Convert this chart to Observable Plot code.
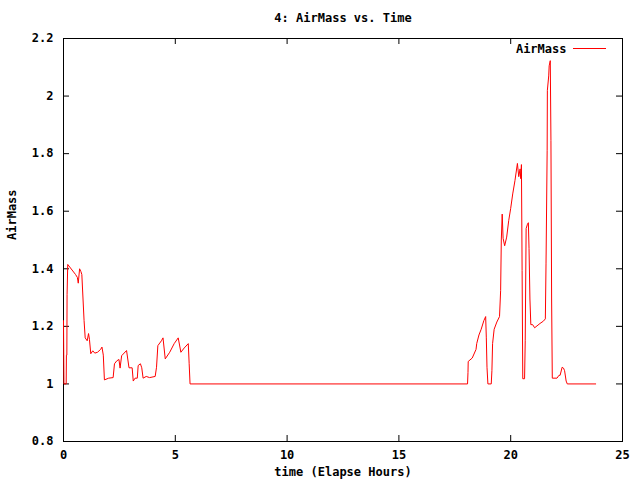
<!DOCTYPE html>
<html><head><meta charset="utf-8">
<script src="https://cdn.jsdelivr.net/npm/d3@7"></script>
<script src="https://cdn.jsdelivr.net/npm/@observablehq/plot@0.6"></script>
<style>body{margin:0;background:#fff}</style>
</head><body><div id="chart"></div>
<script>
const title = "4: AirMass vs. Time";
const xLabel = "time (Elapse Hours)";
const yLabel = "AirMass";
const seriesName = "AirMass";
const xTicks = [0, 5, 10, 15, 20, 25];
const yTicks = [0.8, 1, 1.2, 1.4, 1.6, 1.8, 2, 2.2];
const time = [
  0.00, 0.02, 0.12, 0.13, 0.15, 0.16, 0.19, 0.54, 0.62, 0.66, 0.72, 0.78, 0.82, 0.92, 0.97,
  1.06, 1.12, 1.16, 1.22, 1.31, 1.40, 1.52, 1.66, 1.72, 1.78, 1.83, 2.02, 2.22, 2.28, 2.38,
  2.48, 2.53, 2.60, 2.82, 2.93, 3.07, 3.12, 3.20, 3.30, 3.34, 3.44, 3.50, 3.56, 3.70, 3.85,
  4.10, 4.16, 4.22, 4.38, 4.45, 4.55, 4.75, 4.95, 5.13, 5.25, 5.40, 5.58, 5.62, 5.66,
  18.07, 18.09, 18.10, 18.28, 18.45, 18.48, 18.58, 18.68, 18.80, 18.88, 18.91, 18.94, 18.98,
  19.13, 19.16, 19.19, 19.26, 19.38, 19.50, 19.55, 19.58, 19.62, 19.66, 19.73, 19.82, 19.91,
  20.00, 20.09, 20.19, 20.30, 20.36, 20.42, 20.45, 20.48, 20.51, 20.54, 20.62, 20.65, 20.69,
  20.75, 20.79, 20.82, 20.86, 20.90, 20.98, 21.07, 21.31, 21.46, 21.55, 21.58, 21.63, 21.64,
  21.70, 21.72, 21.77, 21.80, 21.83, 21.86, 22.07, 22.16, 22.21, 22.30, 22.36, 22.41, 22.48,
  22.53, 23.80
];
const airmass = [
  1.22, 1.00, 1.00, 1.10, 1.10, 1.31, 1.415, 1.38, 1.37, 1.35, 1.40, 1.39, 1.38, 1.22, 1.16,
  1.15, 1.175, 1.155, 1.105, 1.115, 1.107, 1.11, 1.12, 1.128, 1.10, 1.014, 1.02, 1.022, 1.07, 1.08,
  1.085, 1.055, 1.098, 1.116, 1.056, 1.056, 1.01, 1.02, 1.02, 1.064, 1.07, 1.056, 1.02, 1.026, 1.022,
  1.026, 1.058, 1.133, 1.15, 1.16, 1.087, 1.11, 1.14, 1.16, 1.11, 1.125, 1.14, 1.07, 1.00,
  1.00, 1.04, 1.078, 1.09, 1.12, 1.14, 1.17, 1.19, 1.22, 1.234, 1.16, 1.058, 1.00,
  1.00, 1.046, 1.14, 1.19, 1.215, 1.234, 1.324, 1.50, 1.59, 1.506, 1.48, 1.51, 1.567,
  1.61, 1.66, 1.706, 1.766, 1.72, 1.747, 1.713, 1.762, 1.394, 1.018, 1.018, 1.15, 1.54,
  1.555, 1.56, 1.47, 1.295, 1.206, 1.206, 1.195, 1.21, 1.218, 1.226, 1.417, 1.81, 2.02,
  2.07, 2.105, 2.123, 1.845, 1.295, 1.02, 1.02, 1.03, 1.03, 1.058, 1.055, 1.046, 1.01,
  1.00, 1.00
];
const data = time.map((t, i) => ({t, v: airmass[i]}));

const W = 640, H = 480, mL = 63, mR = 18, mT = 38, mB = 39;
const pw = W - mL - mR, ph = H - mT - mB;
const tick = 6;

const legendLine = (index, scales, values, dims) => {
  const g = d3.create("svg:g");
  const y = dims.marginTop + 10.5;
  g.append("line")
    .attr("x1", dims.width - dims.marginRight - 49)
    .attr("x2", dims.width - dims.marginRight - 16)
    .attr("y1", y).attr("y2", y)
    .attr("stroke", "#ff0000").attr("stroke-width", 1);
  return g.node();
};

const chart = Plot.plot({
  width: W, height: H,
  marginLeft: mL, marginRight: mR, marginTop: mT, marginBottom: mB,
  style: {fontFamily: "'DejaVu Sans Mono', monospace", fontSize: "12px", fontWeight: "bold", background: "white", color: "black"},
  x: {domain: [0, 25], ticks: xTicks, tickSize: 0, tickPadding: 9, label: null, tickFormat: d => String(d)},
  y: {domain: [0.8, 2.2], ticks: yTicks, tickSize: 0, tickPadding: 10, label: null, tickFormat: d => String(d)},
  marks: [
    Plot.frame({stroke: "black"}),
    Plot.tickY(yTicks, {y: d => d, insetRight: pw - tick, stroke: "black"}),
    Plot.tickY(yTicks, {y: d => d, insetLeft: pw - tick, stroke: "black"}),
    Plot.tickX(xTicks, {x: d => d, insetTop: ph - tick, stroke: "black"}),
    Plot.tickX(xTicks, {x: d => d, insetBottom: ph - tick, stroke: "black"}),
    Plot.line(data, {x: "t", y: "v", stroke: "#ff0000", strokeWidth: 1}),
    Plot.text([title], {text: d => d, frameAnchor: "top", dy: -20, lineAnchor: "middle"}),
    Plot.text([xLabel], {text: d => d, frameAnchor: "bottom", dy: 31, lineAnchor: "middle"}),
    Plot.text([yLabel], {text: d => d, frameAnchor: "left", dx: -51, rotate: -90, lineAnchor: "middle"}),
    Plot.text([seriesName], {text: d => d, frameAnchor: "top-right", dx: -56, dy: 11, textAnchor: "end", lineAnchor: "middle"}),
    legendLine
  ]
});
document.getElementById("chart").appendChild(chart);
</script>
</body></html>
